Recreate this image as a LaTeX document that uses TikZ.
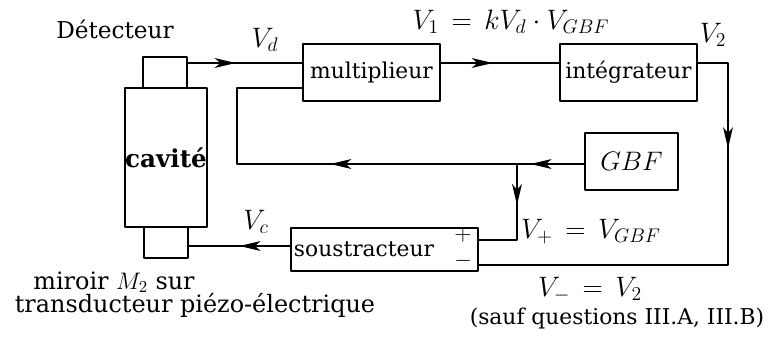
\RequirePackage{fix-cm}
\documentclass[tikz,border=0pt]{standalone}
\usepackage{fontspec}
\setmainfont{DejaVu Serif}
\usetikzlibrary{arrows.meta,decorations.markings}
\tikzset{
  bloc/.style={draw,line width=1.1pt,inner sep=0pt},
  lab/.style={inner sep=0pt,font=\fontsize{20}{24}\selectfont},
  txt/.style={inner sep=0pt},
  flow/.style={decoration={markings,mark=at position #1 with {\arrow{>}}},postaction={decorate}},
  flowtwo/.style 2 args={decoration={markings,mark=at position #1 with {\arrow{>}},
    mark=at position #2 with {\arrow{>}}},postaction={decorate}}
}
\begin{document}
\begin{tikzpicture}[x=0.025cm,y=-0.025cm,line width=1.1pt,line cap=round,line join=round,
  font=\fontsize{15.5}{18}\selectfont,>={Stealth[length=15pt,width=7pt,inset=4pt]}]
\useasboundingbox (0,0) rectangle (770,336);
% boxes
\node[bloc,minimum width=44*0.025cm,minimum height=31*0.025cm] (det) at (165,72.5){};
\node[bloc,minimum width=81*0.025cm,minimum height=139*0.025cm,font=\fontsize{17.5}{20}\selectfont\bfseries] (cav) at (166,157.5){cavité};
\node[bloc,minimum width=44*0.025cm,minimum height=31*0.025cm] (mir) at (166,242.5){};
\node[bloc,minimum width=137*0.025cm,minimum height=57*0.025cm] (mult) at (371.5,72.5){multiplieur};
\node[bloc,minimum width=137*0.025cm,minimum height=57*0.025cm] (integ) at (628.5,72.5){intégrateur};
\node[bloc,minimum width=93*0.025cm,minimum height=57*0.025cm,font=\fontsize{19}{22}\selectfont] (gbf) at (631.5,161.5){$GBF$};
\node[bloc,minimum width=187*0.025cm,minimum height=43*0.025cm] (sous) at (384.5,249.5){};
\node[txt] (soustxt) at (364,249){soustracteur};
\node[txt,font=\fontsize{16}{18}\selectfont] (plus) at (463,235){$+$};
\node[txt,font=\fontsize{16}{18}\selectfont] (moins) at (463,261){$-$};
% rows and columns of the wires
\coordinate (rowA) at (0,63);
\coordinate (rowB) at (0,88);
\coordinate (rowC) at (0,164);
\coordinate (rowP) at (0,240);
\coordinate (rowM) at (0,265);
\coordinate (rowOut) at (0,246);
\coordinate (colR) at (728,0);
\coordinate (colL) at (237,0);
\coordinate (colB) at (517,0);
% wires
\draw[flow=0.42] (det.east |- rowA) -- (mult.west |- rowA);
\draw[flow=0.44] (mult.east |- rowA) -- (integ.west |- rowA);
\draw[flow=0.24] (integ.east |- rowA) -| (colR |- rowM) -- (sous.east |- rowM);
\draw[flowtwo={0.11}{0.52}] (gbf.west |- rowC) -- (colL |- rowC) |- (mult.west |- rowB);
\draw[flow=0.36] (colB |- rowC) |- (sous.east |- rowP);
\draw[flow=0.5] (sous.west |- rowOut) -- (mir.east |- rowOut);
% labels
\node[txt,font=\fontsize{16.5}{20}\selectfont] (ldet) at (115,29){Détecteur};
\node[lab] (lvd) at (265,40){$V_d$};
\node[lab] (lv1) at (511,22){$V_1\,=\,kV_d\cdot V_{GBF}$};
\node[lab] (lv2) at (713,35){$V_2$};
\node[lab] (lvp) at (591,232){$V_+\,=\,V_{GBF}$};
\node[lab] (lvc) at (256,222){$V_c$};
\node[txt,font=\fontsize{17}{20}\selectfont] (lmir) at (114,282){miroir $M_2$ sur};
\node[txt,font=\fontsize{17}{20}\selectfont] (ltrans) at (195,305){transducteur piézo-électrique};
\node[lab] (lvm) at (590,290){$V_-\,=\,V_2$};
\node[txt] (lsauf) at (617,318){(sauf questions III.A, III.B)};
\end{tikzpicture}
\end{document}
